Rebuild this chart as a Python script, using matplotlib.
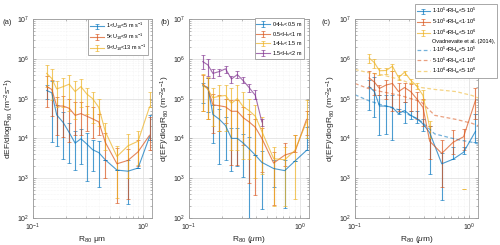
import numpy as np
import matplotlib
matplotlib.use("Agg")
import matplotlib.pyplot as plt
from matplotlib.lines import Line2D

plt.rcParams['font.family'] = ['Liberation Sans', 'DejaVu Sans']
plt.rcParams['mathtext.fontset'] = 'custom'
plt.rcParams['mathtext.rm'] = 'Liberation Sans'
plt.rcParams['mathtext.it'] = 'Liberation Sans:italic'

# ---------------- data ----------------
R80 = np.array([0.133, 0.148, 0.164, 0.188, 0.213, 0.241, 0.272, 0.308,
                0.347, 0.395, 0.452, 0.577, 0.726, 0.897, 1.14])

# panel (a): wind speed classes
a_labels = ['1<U$_{10}$<5 m s$^{-1}$', '5<U$_{10}$<9 m s$^{-1}$', '9<U$_{10}$<13 m s$^{-1}$']
a_u1 = [1.6e5, 1.4e5, 3.9e4, 2.5e4, 1.4e4, 7.6e3, 9.8e3, 7.2e3, 5.2e3, 4.4e3, 2.9e3, 1.6e3, 1.5e3, 1.8e3, 1.1e4]
a_u1_lo = [9.5e4, 8e3, 6.6e3, 3e3, 2.4e3, 1.6e3, 2.3e3, 830, 1.5e3, 590, 2.9e3, 1.6e3, 230, 1.8e3, 9e3]
a_u1_hi = [2.2e5, 2.7e5, 7.1e4, 4.7e4, 2.5e4, 1.5e4, 1.7e4, 1.35e4, 8.9e3, 8.7e3, 2.9e3, 1.6e3, 2.85e3, 1.8e3, 3.8e4]
a_u2 = [2e5, 1.7e5, 6.5e4, 6.5e4, 5.7e4, 3.8e4, 4.2e4, 3.6e4, 3.1e4, 2.6e4, 8e3, 2.3e3, 2.8e3, 4.6e3, 1.2e4]
a_u2_lo = [6.2e4, 3.6e4, 1.2e4, 1.1e4, 7.9e3, 1.2e4, 1.2e4, 1.5e4, 1e4, 1.2e4, 1e3, 240, 300, 2e3, 5e3]
a_u2_hi = [3.6e5, 3e5, 1.1e5, 1.15e5, 1e5, 8e4, 8e4, 6.5e4, 6e4, 4e4, 1.4e4, 5.8e3, 5.5e3, 9e3, 3.5e4]
a_u3 = [4.3e5, 3.2e5, 1.75e5, 2e5, 2.3e5, 1.5e5, 2e5, 1.3e5, 1e5, 6e4, 1.5e4, 3.5e3, 6.5e3, 8.5e3, 6.2e4]
a_u3_lo = [2e5, 9e4, 6e4, 6e4, 5e4, 3e4, 6e4, 4e4, 2.5e4, 2e4, 5e3, 320, 1e3, 2.1e3, 6.2e4]
a_u3_hi = [7e5, 5.5e5, 2.8e5, 3.2e5, 4e5, 2.8e5, 3.1e5, 1.9e5, 1.5e5, 1e5, 2.5e4, 6.5e3, 1.3e4, 1.5e4, 1.5e5]

# panel (b): significant wave height classes
b_labels = ['0<H$_s$<0.5 m', '0.5<H$_s$<1 m', '1<H$_s$<1.5 m', '1.5<H$_s$<2 m']
b_h1 = [2.1e5, 1.9e5, 4e4, 3e4, 2.1e4, 1e4, 1e4, 7.6e3, 5.5e3, 3.8e3, 2.5e3, 1.75e3, 1.55e3, 2.7e3, 5e3]
b_h1_lo = [7.8e4, 4.5e4, 7.6e3, 2.3e3, 2.8e3, 1.5e3, 2e3, 1.1e3, 100, 3.8e3, 170, 600, 180, 2.7e3, 5e3]
b_h1_hi = [2.5e5, 3.3e5, 7e4, 5.5e4, 3.5e4, 1.8e4, 1.8e4, 1.3e4, 1.1e4, 3.8e3, 4.8e3, 2.9e3, 2.8e3, 2.7e3, 1.9e4]
b_h2 = [2.3e5, 1.8e5, 7e4, 6.6e4, 6.2e4, 4.8e4, 4.8e4, 3.3e4, 2.6e4, 1.9e4, 1e4, 2.4e3, 3.8e3, 4.6e3, 3e4]
b_h2_lo = [5e4, 3e4, 1.4e4, 1.5e4, 2.4e4, 2.1e3, 2.2e3, 7e3, 750, 370, 1.4e3, 210, 2e3, 4.6e3, 1.2e4]
b_h2_hi = [4e5, 3.3e5, 1.3e5, 1.2e5, 1e5, 9e4, 9e4, 6e4, 4e4, 3e4, 1.8e4, 4.5e3, 7.5e3, 1.2e4, 5e4]
b_h3 = [2.2e5, 1.7e5, 1.05e5, 1.15e5, 1.2e5, 7.6e4, 1e5, 6.2e4, 5e4, 3.6e4, 1.5e4, 3.1e3, 2.9e3, 5e3, 2.6e4]
b_h3_lo = [5e4, 3e4, 2e4, 1.5e4, 1.5e4, 5e3, 5e3, 3e3, 3e3, 1e3, 1.3e3, 200, 200, 300, 1e4]
b_h3_hi = [4.2e5, 3.5e5, 1.8e5, 2.2e5, 2.2e5, 1.8e5, 2.2e5, 1.5e5, 1e5, 7e4, 3.5e4, 6e3, 6e3, 1.2e4, 9e4]
b_h4 = [8.5e5, 7e5, 4.3e5, 4.8e5, 5.6e5, 3.1e5, 4e5, 2.8e5, 1.9e5, 1.2e5, 2.6e4] + [np.nan] * 4
b_h4_lo = [5.5e5, 3.8e5, 3.3e5, 3.8e5, 4.5e5, 2.5e5, 3.3e5, 2.4e5, 1.5e5, 1e5, 2e4] + [np.nan] * 4
b_h4_hi = [1.25e6, 1e6, 5.5e5, 5.5e5, 6.5e5, 3.8e5, 5e5, 3.4e5, 2.3e5, 1.6e5, 3e4] + [np.nan] * 4

# panel (c): wave Reynolds number classes
c_labels = ['1$\\cdot$10$^5$<RH$_w$<5$\\cdot$10$^5$', '5$\\cdot$10$^5$<RH$_w$<1$\\cdot$10$^6$',
            '1$\\cdot$10$^6$<RH$_w$<5$\\cdot$10$^6$']
c_r1 = [2e5, 1.5e5, 6.5e4, 6.5e4, 6e4, 4.2e4, 5e4, 3.8e4, 3.2e4, 2.3e4, 1.4e4, 2.3e3, 3e3, 4.5e3, 1.5e4]
c_r1_lo = [5.2e4, 3.5e4, 1.2e4, 1.3e4, 9e3, 4e4, 2.5e4, 3e4, 2.5e4, 1.5e4, 1.3e3, 280, 3e3, 4e3, 8e3]
c_r1_hi = [3e5, 3.4e5, 1.2e5, 1.2e5, 1.2e5, 5.5e4, 8e4, 5e4, 5e4, 3e4, 2e4, 4.3e3, 6e3, 6e3, 4e4]
c_r2 = [3.3e5, 2.6e5, 1.8e5, 2.2e5, 2.4e5, 1.5e5, 1.9e5, 1.5e5, 1e5, 6e4, 8.5e3, 4.2e3, 8e3, 1.1e4, 9e4]
c_r2_lo = [2e5, 1.2e5, 1.2e5, 1e5, 5e4, 5e4, 8e4, 5e4, 3e4, 2e4, 3e3, 600, 4e3, 5e3, 3e4]
c_r2_hi = [4.8e5, 4.5e5, 2.2e5, 3e5, 5e5, 2.5e5, 2.5e5, 2.3e5, 1.5e5, 1e5, 2e4, 9e3, 1.6e4, 1.7e4, 1.8e5]
c_r3 = [1.05e6, 8e5, 5e5, 5.1e5, 6.5e5, 3.4e5, 4.6e5, 2.9e5, 2.1e5, 1.2e5, 1.9e4, np.nan, np.nan, 550, np.nan]
c_r3_lo = [8e5, 6e5, 4e5, 4.2e5, 5e5, 3e5, 4e5, 2.4e5, 1.7e5, 9e4, 1e4, np.nan, np.nan, 550, np.nan]
c_r3_hi = [1.3e6, 1e6, 6e5, 5.8e5, 7.2e5, 3.9e5, 4.8e5, 3.1e5, 2.4e5, 1.6e5, 2.7e4, np.nan, np.nan, 550, np.nan]

ov_label_head = 'Ovadnevaite et al. (2014),'
ov_R = [0.1, 0.13, 0.17, 0.25, 0.38, 0.5, 0.77, 1.06, 1.25]
ov_r1 = [1.25e5, 9e4, 7e4, 5.1e4, 2.7e4, 1.3e4, 9.5e3, 8e3, 7e3]
ov_r2 = [2.4e5, 1.8e5, 1.5e5, 1.2e5, 8.3e4, 3.8e4, 3e4, 2.4e4, 2e4]
ov_r3 = [5.4e5, 4.5e5, 4e5, 3e5, 1.9e5, 1.7e5, 1.5e5, 1.2e5, 1e5]

# ---------------- style ----------------
C_BLUE = '#0072BD'
C_ORANGE = '#D95319'
C_YELLOW = '#EDB120'
C_PURPLE = '#7E2F8E'
ALPHA = 0.7

fig = plt.figure(figsize=(5.0, 2.45), dpi=100)
W, H = 500.0, 245.0
boxes = [(33, 19, 152, 218), (189, 19, 309, 218), (355, 19, 478, 218)]
panel_x = [7, 165, 326]
axes = []
for (x0, y0, x1, y1) in boxes:
    ax = fig.add_axes([x0 / W, 1 - y1 / H, (x1 - x0) / W, (y1 - y0) / H])
    axes.append(ax)


def series(ax, y, lo, hi, color, label):
    y = np.asarray(y, float)
    lo = np.asarray(lo, float)
    hi = np.asarray(hi, float)
    yerr = np.vstack([y - lo, hi - y])
    return ax.errorbar(R80, y, yerr=yerr, color=color, lw=0.8, elinewidth=0.8,
                       capsize=1.2, capthick=0.6, alpha=ALPHA, label=label)


def style(ax, ylabel, xlabel, panel, px):
    ax.set_xscale('log')
    ax.set_yscale('log')
    ax.set_xlim(0.1, 1.2)
    ax.set_ylim(1e2, 1e7)
    ax.grid(True, which='major', color='#dcdcdc', lw=0.5)
    ax.grid(True, which='minor', color='#ececec', lw=0.4, ls=':')
    ax.set_axisbelow(True)
    for s in ax.spines.values():
        s.set_color('#9a9a9a')
        s.set_linewidth(0.6)
    ax.tick_params(which='both', direction='in', top=True, right=True,
                   colors='#9a9a9a', labelcolor='#262626', labelsize=5,
                   length=2, width=0.5, pad=2.5)
    ax.tick_params(axis='x', which='both', pad=3)
    ax.tick_params(which='minor', length=1.2)
    ax.set_ylabel(ylabel, fontsize=6, color='#262626', labelpad=0.5)
    ax.set_xlabel(xlabel, fontsize=6, color='#262626', labelpad=0.5)
    fig.text(px / W, 1 - 22 / H, panel, fontsize=5.5, color='#262626',
             ha='center', va='center')


def legend(ax, handles, labels, anchor):
    lg = ax.legend(handles, labels, loc='upper right', bbox_to_anchor=anchor,
                   bbox_transform=fig.transFigure, fontsize=4, frameon=True,
                   fancybox=False, framealpha=1, edgecolor='#9a9a9a',
                   handlelength=2.5, handletextpad=0.3, borderpad=0.3,
                   labelspacing=0.12, borderaxespad=0)
    lg.get_frame().set_linewidth(0.6)
    return lg


# (a)
ax = axes[0]
ha = [series(ax, a_u1, a_u1_lo, a_u1_hi, C_BLUE, a_labels[0]),
      series(ax, a_u2, a_u2_lo, a_u2_hi, C_ORANGE, a_labels[1]),
      series(ax, a_u3, a_u3_lo, a_u3_hi, C_YELLOW, a_labels[2])]
style(ax, 'dEF/dlogR$_{80}$ (m$^{-2}$s$^{-1}$)', 'R$_{80}$ μm', '(a)', panel_x[0])
legend(ax, ha, a_labels, (148 / W, 1 - 19.5 / H))

# (b)
ax = axes[1]
hb = [series(ax, b_h1, b_h1_lo, b_h1_hi, C_BLUE, b_labels[0]),
      series(ax, b_h2, b_h2_lo, b_h2_hi, C_ORANGE, b_labels[1]),
      series(ax, b_h3, b_h3_lo, b_h3_hi, C_YELLOW, b_labels[2]),
      series(ax, b_h4, b_h4_lo, b_h4_hi, C_PURPLE, b_labels[3])]
style(ax, 'd(EF)/dlogR$_{80}$ (m$^{-2}$s$^{-1}$)', 'R$_{80}$ ($\\mu$m)', '(b)', panel_x[1])
legend(ax, hb, b_labels, (304 / W, 1 - 18.5 / H))

# (c)
ax = axes[2]
hc = [series(ax, c_r1, c_r1_lo, c_r1_hi, C_BLUE, c_labels[0]),
      series(ax, c_r2, c_r2_lo, c_r2_hi, C_ORANGE, c_labels[1]),
      series(ax, c_r3, c_r3_lo, c_r3_hi, C_YELLOW, c_labels[2])]
d1, = ax.plot(ov_R, ov_r1, ls=(0, (3, 2)), color=C_BLUE, lw=0.9, alpha=0.55)
d2, = ax.plot(ov_R, ov_r2, ls=(0, (3, 2)), color=C_ORANGE, lw=0.9, alpha=0.55)
d3, = ax.plot(ov_R, ov_r3, ls=(0, (3, 2)), color=C_YELLOW, lw=0.9, alpha=0.55)
style(ax, 'd(EF)/dlogR$_{80}$ (m$^{-2}$s$^{-1}$)', 'R$_{80}$ ($\\mu$m)', '(c)', panel_x[2])
blank = Line2D([], [], color='none')
legend(ax, hc + [blank, d1, d2, d3], c_labels + [ov_label_head] + c_labels,
       (497 / W, 1 - 4.5 / H))

fig.savefig('out.png', dpi=100)
